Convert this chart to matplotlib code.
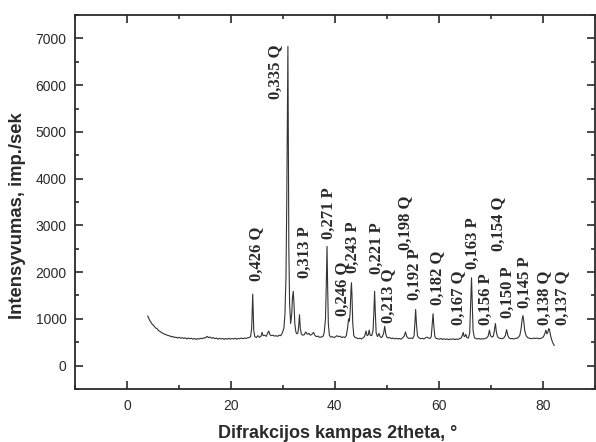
import matplotlib
matplotlib.use("Agg")
import matplotlib.pyplot as plt
from matplotlib.ticker import MultipleLocator

# ---------------- data ----------------
two_theta = [
    4.0, 4.3, 4.6, 4.9, 5.2, 5.5, 5.8, 6.1, 6.4, 6.7,
    7.0, 7.3, 7.6, 7.9, 8.2, 8.5, 8.8, 9.1, 9.4, 9.7,
    10.0, 10.3, 10.6, 10.9, 11.2, 11.5, 11.8, 12.1, 12.4, 12.7,
    13.0, 13.3, 13.6, 13.9, 14.2, 14.5, 14.8, 15.1, 15.4, 15.7,
    16.0, 16.3, 16.6, 16.9, 17.2, 17.5, 17.8, 18.1, 18.4, 18.7,
    19.0, 19.3, 19.6, 19.9, 20.2, 20.5, 20.8, 21.1, 21.4, 21.7,
    22.0, 22.3, 22.6, 22.9, 23.2, 23.5, 23.8,
    24.0, 24.1, 24.2, 24.3, 24.4, 24.6, 24.9, 25.2, 25.5, 25.8,
    26.0, 26.2, 26.5, 26.8, 27.1, 27.3, 27.5, 27.8, 28.1, 28.4,
    28.7, 29.0, 29.3, 29.6, 29.9, 30.2, 30.4, 30.6, 30.75, 30.9,
    30.97, 31.05, 31.15, 31.3, 31.5, 31.7, 31.85, 32.0, 32.15, 32.3,
    32.5, 32.7, 32.9, 33.05, 33.2, 33.35, 33.55, 33.8, 34.1, 34.4,
    34.7, 35.0, 35.3, 35.6, 35.9, 36.2, 36.5, 36.8, 37.1, 37.4,
    37.7, 37.95, 38.2, 38.35, 38.5, 38.6, 38.75, 38.95, 39.2, 39.5,
    39.8, 40.1, 40.4, 40.7, 41.0, 41.3, 41.6, 41.9, 42.2, 42.45,
    42.65, 42.8, 42.95, 43.1, 43.2, 43.3, 43.45, 43.65, 43.9, 44.2,
    44.5, 44.8, 45.1, 45.4, 45.7, 46.0, 46.2, 46.45, 46.6, 46.8,
    47.1, 47.35, 47.5, 47.65, 47.8, 47.95, 48.2, 48.5, 48.7, 48.9,
    49.15, 49.4, 49.6, 49.8, 50.0, 50.3, 50.6, 50.9, 51.2, 51.5,
    51.8, 52.1, 52.4, 52.7, 53.0, 53.3, 53.6, 53.85, 54.1, 54.4,
    54.7, 55.0, 55.25, 55.4, 55.55, 55.7, 55.9, 56.2, 56.5, 56.8,
    57.1, 57.4, 57.7, 58.0, 58.3, 58.55, 58.75, 58.9, 59.05, 59.25,
    59.5, 59.8, 60.1, 60.4, 60.7, 61.0, 61.3, 61.6, 61.9, 62.2,
    62.5, 62.8, 63.1, 63.4, 63.7, 64.0, 64.3, 64.55, 64.7, 64.85,
    65.0, 65.2, 65.4, 65.7, 65.95, 66.1, 66.3, 66.45, 66.6, 66.85,
    67.1, 67.4, 67.7, 68.0, 68.3, 68.6, 68.9, 69.2, 69.5, 69.75,
    69.95, 70.2, 70.5, 70.7, 70.9, 71.1, 71.35, 71.6, 71.9, 72.2,
    72.5, 72.8, 73.05, 73.3, 73.55, 73.8, 74.1, 74.4, 74.7, 75.0,
    75.3, 75.6, 75.85, 76.05, 76.2, 76.35, 76.55, 76.8, 77.1, 77.4,
    77.7, 78.0, 78.3, 78.6, 78.9, 79.2, 79.5, 79.8, 80.1, 80.4,
    80.6, 80.8, 80.95, 81.15, 81.3, 81.5, 81.7, 81.9, 82.1, 82.2,
]
intensity = [
    1060, 985, 930, 880, 850, 805, 790, 745, 730, 700,
    690, 665, 660, 640, 640, 615, 625, 600, 610, 590,
    605, 585, 600, 580, 595, 570, 590, 575, 585, 565,
    580, 560, 575, 570, 585, 575, 595, 590, 625, 600,
    610, 585, 600, 575, 590, 565, 585, 570, 580, 560,
    580, 565, 585, 565, 580, 570, 585, 565, 580, 575,
    590, 575, 590, 580, 595, 600, 620,
    800, 1150, 1530, 1100, 750, 620, 600, 640, 605, 630,
    710, 640, 650, 625, 700, 740, 660, 640, 650, 630,
    640, 625, 650, 640, 700, 800, 1100, 1900, 3500, 6000,
    6830, 5000, 2500, 1300, 900, 1100, 1450, 1590, 1300, 900,
    720, 680, 700, 850, 1090, 800, 680, 650, 660, 720,
    670, 690, 650, 670, 710, 640, 620, 630, 600, 615,
    620, 700, 1000, 1700, 2550, 1800, 900, 650, 610, 620,
    600, 615, 640, 620, 630, 600, 615, 600, 640, 800,
    1000, 950, 1150, 1600, 1770, 1500, 900, 640, 600, 590,
    575, 585, 570, 590, 620, 740, 640, 660, 760, 650,
    640, 750, 1100, 1590, 1100, 700, 620, 690, 620, 600,
    620, 700, 840, 680, 610, 590, 600, 575, 590, 570,
    585, 570, 580, 565, 590, 620, 720, 620, 590, 580,
    590, 580, 640, 900, 1200, 900, 640, 590, 575, 585,
    570, 590, 610, 590, 580, 620, 900, 1110, 850, 620,
    580, 575, 565, 580, 560, 575, 560, 570, 555, 570,
    560, 575, 555, 570, 560, 575, 590, 650, 710, 630,
    620, 670, 600, 590, 700, 1200, 1880, 1300, 750, 600,
    580, 570, 580, 565, 575, 570, 580, 590, 630, 760,
    640, 610, 630, 750, 900, 700, 610, 590, 580, 575,
    590, 640, 770, 640, 590, 575, 580, 570, 580, 585,
    600, 650, 800, 1000, 1070, 950, 740, 640, 600, 585,
    580, 575, 590, 580, 590, 575, 580, 590, 610, 680,
    760, 680, 700, 790, 770, 650, 560, 500, 450, 430,
]

peak_labels = ["0,426 Q", "0,335 Q", "0,313 P", "0,271 P", "0,246 Q", "0,243 P",
               "0,221 P", "0,213 Q", "0,198 Q", "0,192 P", "0,182 Q", "0,167 Q",
               "0,163 P", "0,156 P", "0,154 Q", "0,150 P", "0,145 P", "0,138 Q",
               "0,137 Q"]
label_x = [24.8, 28.5, 34.3, 38.9, 41.4, 43.5, 48.0, 50.2, 53.5, 55.4, 59.6,
           63.7, 66.6, 69.15, 71.4, 73.2, 76.5, 80.3, 83.8]
label_y = [1805, 5695, 1877, 2712, 1070, 1985, 1970, 914, 2469, 1413, 1306,
           878, 2070, 878, 2447, 1021, 1235, 878, 878]

x_label = "Difrakcijos kampas 2theta, \u00b0"
y_label = "Intensyvumas, imp./sek"

# ---------------- figure ----------------
fig = plt.figure(figsize=(5.96, 4.42), dpi=100)
ax = fig.add_axes([0.1258, 0.12, 0.872, 0.846])

dark = "#2a2a2a"
ax.plot(two_theta, intensity, color="#333333", lw=0.8)

for t, xx, yy in zip(peak_labels, label_x, label_y):
    ax.text(xx, yy, t, rotation=90, ha="center", va="bottom",
            family="Liberation Serif", fontweight="bold", fontsize=12,
            color=dark)

ax.set_xlim(-10, 90)
ax.set_ylim(-500, 7500)
ax.xaxis.set_major_locator(MultipleLocator(20))
ax.xaxis.set_minor_locator(MultipleLocator(10))
ax.yaxis.set_major_locator(MultipleLocator(1000))
ax.yaxis.set_minor_locator(MultipleLocator(500))
ax.tick_params(which="both", direction="in", top=True, right=True,
               color=dark, width=1.2)
ax.tick_params(which="major", length=6, labelsize=10, labelcolor=dark)
ax.tick_params(axis="x", which="major", pad=7)
ax.tick_params(axis="y", which="major", pad=6)
ax.tick_params(which="minor", length=3)
for lab in ax.get_xticklabels() + ax.get_yticklabels():
    lab.set_family("Liberation Sans")
for s in ax.spines.values():
    s.set_color(dark)
    s.set_linewidth(1.3)

fig.text(18 / 596, 1 - 216 / 442, y_label, rotation=90, ha="center", va="center",
         family="Liberation Sans", fontweight="bold", fontsize=13.3, color=dark)
fig.text(338 / 596, 1 - 433 / 442, x_label, ha="center", va="center",
         family="Liberation Sans", fontweight="bold", fontsize=13, color=dark)

fig.savefig("out.png", dpi=100)
